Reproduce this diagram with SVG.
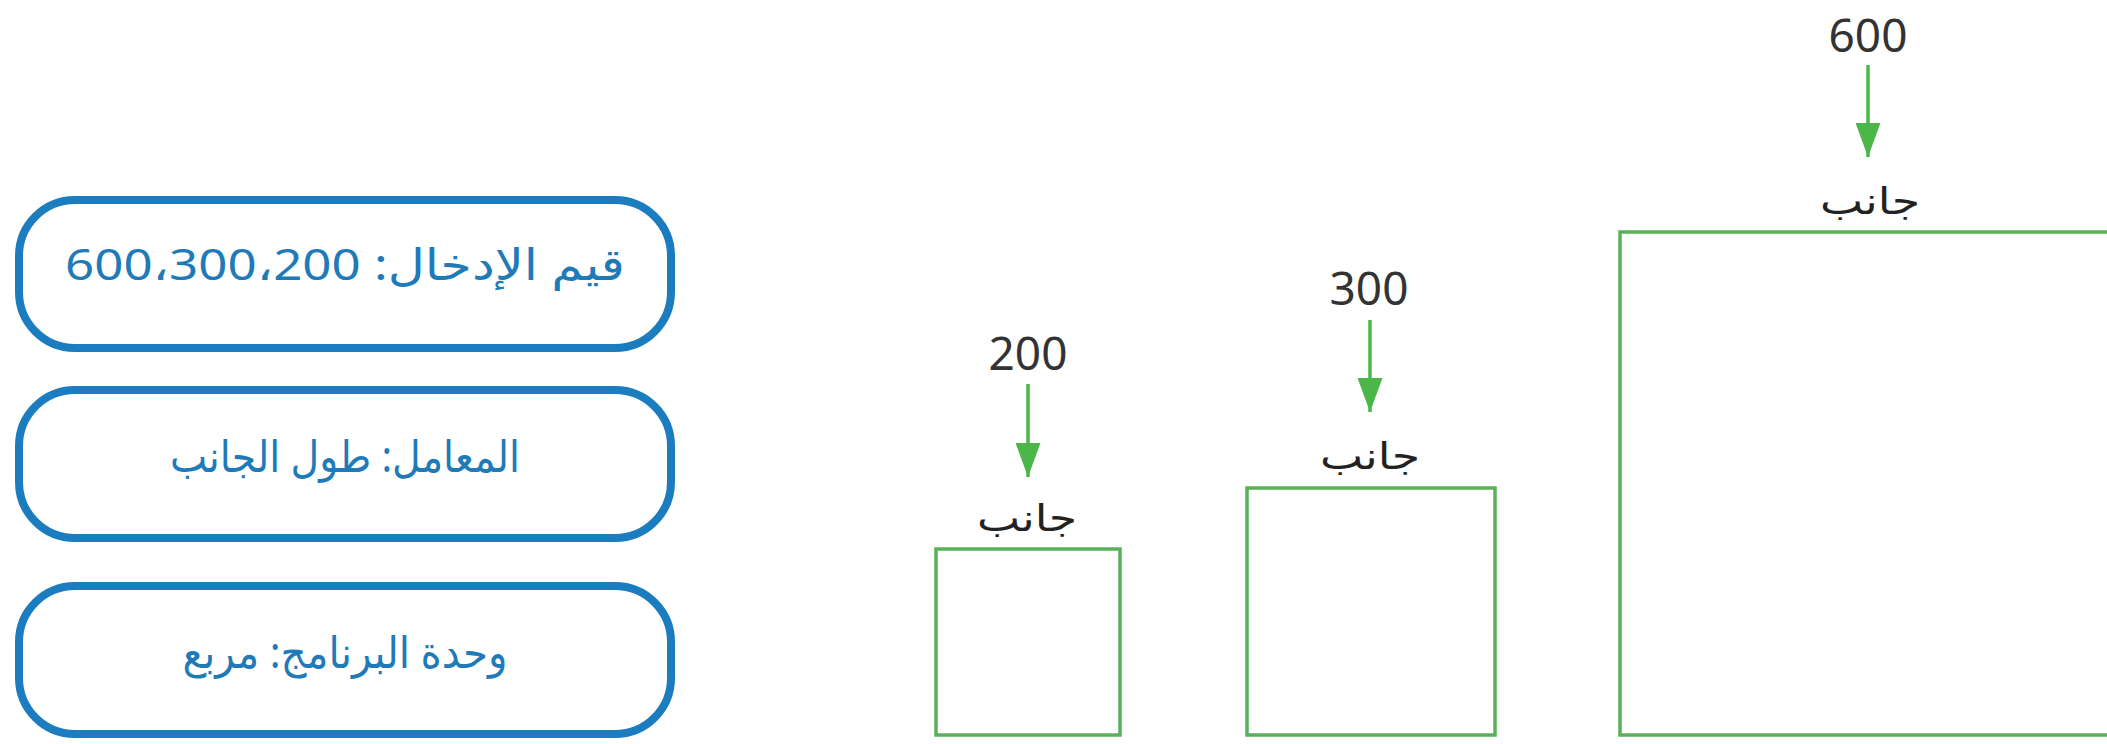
<svg xmlns="http://www.w3.org/2000/svg" width="2107" height="744" viewBox="0 0 2107 744">
<style>
.box{fill:#ffffff;stroke:#1b7dc0;stroke-width:8}
.btxt{font-family:"Noto Sans","DejaVu Sans",sans-serif;font-size:44px;fill:#1f7ab8;text-anchor:middle}
.sq{fill:none;stroke:#58b05a;stroke-width:3.5}
.num{font-family:"Noto Sans","DejaVu Sans",sans-serif;font-size:46px;fill:#333333;text-anchor:middle}
.lbl{font-family:"Noto Sans","DejaVu Sans",sans-serif;font-size:37px;fill:#222222;text-anchor:middle}
.arr{stroke:#4bb749;stroke-width:3.5;fill:none}
</style>
<defs>
<marker id="ah" viewBox="0 0 34 25" markerWidth="34" markerHeight="25" refX="34" refY="12.5" orient="auto" markerUnits="userSpaceOnUse">
<path d="M0,0 L34,12.5 L0,25 Z" fill="#4bb749"/>
</marker>
</defs>
<rect width="2107" height="744" fill="#ffffff"/>
<g id="box-input">
<rect class="box" x="19" y="200" width="652" height="148" rx="56"/>
<text class="btxt" x="345" y="280" direction="rtl" textLength="560" lengthAdjust="spacingAndGlyphs">قيم الإدخال: 600،300،200</text>
</g>
<g id="box-param">
<rect class="box" x="19" y="390" width="652" height="148" rx="56"/>
<text class="btxt" x="345" y="472" direction="rtl" textLength="350" lengthAdjust="spacingAndGlyphs">المعامل: طول الجانب</text>
</g>
<g id="box-module">
<rect class="box" x="19" y="586" width="652" height="148" rx="56"/>
<text class="btxt" x="345" y="668" direction="rtl" textLength="325" lengthAdjust="spacingAndGlyphs">وحدة البرنامج: مربع</text>
</g>
<g id="square-200">
<text class="num" x="1028" y="370">200</text>
<text class="lbl" x="1027" y="531" direction="rtl" textLength="100" lengthAdjust="spacingAndGlyphs">جانب</text>
<rect class="sq" x="936" y="549" width="184" height="186"/>
</g>
<g id="square-300">
<text class="num" x="1369" y="305">300</text>
<text class="lbl" x="1370" y="469" direction="rtl" textLength="100" lengthAdjust="spacingAndGlyphs">جانب</text>
<rect class="sq" x="1247" y="488" width="248" height="247"/>
</g>
<g id="square-600">
<text class="num" x="1868" y="52">600</text>
<text class="lbl" x="1870" y="214" direction="rtl" textLength="100" lengthAdjust="spacingAndGlyphs">جانب</text>
<rect class="sq" x="1620" y="232" width="510" height="503"/>
</g>
<g id="connectors">
<line class="arr" x1="1028" y1="384" x2="1028" y2="477" marker-end="url(#ah)"/>
<line class="arr" x1="1370" y1="320" x2="1370" y2="412" marker-end="url(#ah)"/>
<line class="arr" x1="1868" y1="65" x2="1868" y2="157" marker-end="url(#ah)"/>
</g>
</svg>
